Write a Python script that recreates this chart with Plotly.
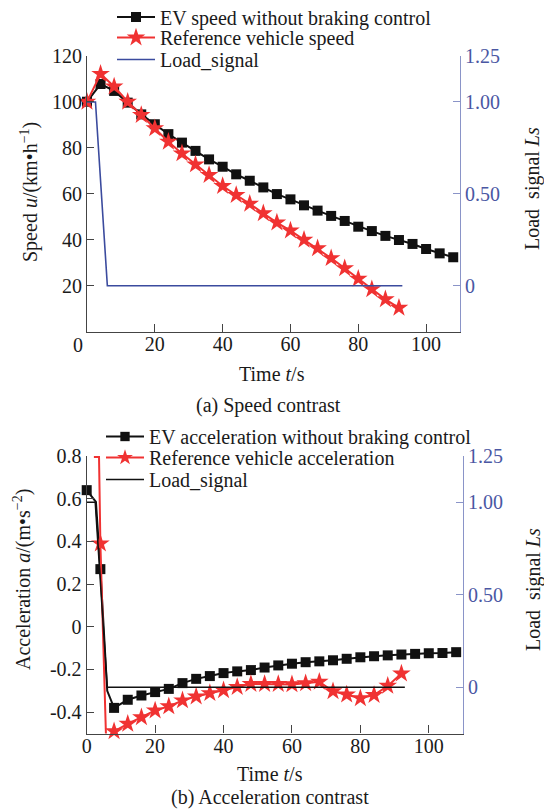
import plotly.graph_objects as go

W, H = 544, 812
FONT = "Liberation Serif"
FS = 20

# ---------------- (a) speed contrast ----------------
t_speed_ev = [0, 4, 8, 12, 16, 20, 24, 28, 32, 36, 40, 44, 48, 52, 56, 60, 64,
              68, 72, 76, 80, 84, 88, 92, 96, 100, 104, 108]
speed_ev = [100.1, 107.8, 104.8, 99.7, 94.6, 90.3, 86.0, 82.3, 78.7, 75.0, 71.8,
            68.5, 65.7, 62.8, 59.9, 57.6, 55.0, 52.7, 50.4, 48.2, 45.7, 43.8,
            41.7, 39.9, 38.2, 36.0, 34.1, 32.4]
t_speed_ref = [0, 4, 8, 12, 16, 20, 24, 28, 32, 36, 40, 44, 48, 52, 56, 60, 64,
               68, 72, 76, 80, 84, 88, 92]
speed_ref = [100.1, 112.2, 106.7, 100.1, 94.3, 88.5, 82.7, 77.6, 72.8, 68.2, 63.4,
             59.5, 55.7, 51.5, 47.5, 44.0, 40.0, 36.3, 32.0, 27.6, 23.0, 18.5,
             14.1, 10.4]
t_load = [0, 2.5, 6, 93]
load_sig = [1, 1, 0, 0]

# ---------------- (b) acceleration contrast ----------------
t_acc_ev = [0, 2.7, 4, 6, 8, 12, 16, 20, 24, 28, 32, 36, 40, 44, 48, 52, 56, 60,
            64, 68, 72, 76, 80, 84, 88, 92, 96, 100, 104, 108]
acc_ev = [0.64, 0.585, 0.27, -0.30, -0.38, -0.342, -0.322, -0.306, -0.291,
          -0.264, -0.244, -0.231, -0.217, -0.209, -0.203, -0.191, -0.181, -0.173,
          -0.166, -0.162, -0.157, -0.150, -0.143, -0.138, -0.134, -0.130,
          -0.127, -0.124, -0.123, -0.119]
t_acc_ref = [2.1, 3.6, 4, 5.8, 7.6, 8, 12, 16, 20, 24, 28, 32, 36, 40, 44, 48,
             52, 56, 60, 64, 68, 72, 76, 80, 84, 88, 92]
acc_ref = [0.795, 0.795, 0.39, -0.6, -0.6, -0.49, -0.455, -0.424, -0.392, -0.373,
           -0.345, -0.327, -0.311, -0.298, -0.282, -0.268, -0.268, -0.268, -0.270,
           -0.265, -0.258, -0.302, -0.318, -0.335, -0.320, -0.277, -0.219]
marked_times = [0, 4, 8, 12, 16, 20, 24, 28, 32, 36, 40, 44, 48, 52, 56, 60, 64,
                68, 72, 76, 80, 84, 88, 92, 96, 100, 104, 108]
t_load_b = [0, 2.5, 6, 93]
load_sig_b = [1, 1, 0, 0]

BLACK = "#111111"
RED = "#f03232"
BLUE = "#3b4b9e"
AXBLUE = "#8a94c8"
TICKBLUE = "#4a57a3"
SQ = 10
ST = 14

def sizes(ts, s):
    mk = set(marked_times)
    return [s if t in mk else 0 for t in ts]

def mk(symbol, size, color):
    return dict(symbol=symbol, size=size, color=color, opacity=1,
                line=dict(width=0, color=color))

fig = go.Figure()

fig.add_trace(go.Scatter(x=t_speed_ev, y=speed_ev, mode="lines+markers",
                         name="EV speed without braking control",
                         line=dict(color=BLACK, width=2),
                         marker=mk("square", SQ, BLACK),
                         cliponaxis=False, xaxis="x", yaxis="y", legend="legend"))
fig.add_trace(go.Scatter(x=t_speed_ref, y=speed_ref, mode="lines+markers",
                         name="Reference vehicle speed",
                         line=dict(color=RED, width=2),
                         marker=mk("star", ST, RED),
                         cliponaxis=False, xaxis="x", yaxis="y", legend="legend2"))
fig.add_trace(go.Scatter(x=t_load, y=load_sig, mode="lines", name="Load_signal",
                         line=dict(color=BLUE, width=1.6),
                         xaxis="x", yaxis="y2", legend="legend3"))

fig.add_trace(go.Scatter(x=t_acc_ev, y=acc_ev, mode="lines+markers",
                         name="EV acceleration without braking control",
                         line=dict(color=BLACK, width=2),
                         marker=mk("square", sizes(t_acc_ev, SQ), BLACK),
                         cliponaxis=False, xaxis="x2", yaxis="y3", legend="legend4"))
fig.add_trace(go.Scatter(x=t_acc_ref, y=acc_ref, mode="lines+markers",
                         name="Reference vehicle acceleration",
                         line=dict(color=RED, width=2),
                         marker=mk("star", sizes(t_acc_ref, ST), RED),
                         cliponaxis=False, xaxis="x2", yaxis="y3", legend="legend5"))
fig.add_trace(go.Scatter(x=t_load_b, y=load_sig_b, mode="lines", name="Load_signal",
                         line=dict(color=BLACK, width=1.6),
                         xaxis="x2", yaxis="y4", legend="legend6"))

def px_x(p):
    return p / W

def px_y(p):
    return 1 - p / H

tickfont = dict(family=FONT, size=FS, color="#1a1a1a")
common_x = dict(showgrid=False, zeroline=False, ticks="inside", ticklen=8,
                tickcolor="#444", showline=True, linecolor="#444", linewidth=1.2,
                tickfont=tickfont, range=[0, 110], ticklabelstandoff=-6)
common_y = dict(showgrid=False, zeroline=False, ticks="inside", ticklen=7,
                tickcolor="#444", showline=True, linecolor="#444", linewidth=1.2,
                tickfont=tickfont)
right_y = dict(showgrid=False, zeroline=False, ticks="inside", ticklen=7,
               tickcolor=AXBLUE, showline=True, linecolor=AXBLUE, linewidth=1.2,
               tickfont=dict(family=FONT, size=FS, color=TICKBLUE), side="right",
               range=[-0.25, 1.25], tickvals=[0, 0.5, 1.0, 1.25],
               ticktext=["0", "0.50", "1.00", "1.25"])

dom_x_a = [px_x(87), px_x(460)]
dom_y_a = [px_y(331.7), px_y(56)]
dom_x_b = [px_x(86.7), px_x(463)]
dom_y_b = [px_y(733.5), px_y(456)]

fig.update_layout(
    width=W, height=H, margin=dict(l=0, r=0, t=0, b=0, autoexpand=False),
    paper_bgcolor="white", plot_bgcolor="white", showlegend=True,
    font=dict(family=FONT, size=FS, color="#1a1a1a"),
    xaxis=dict(common_x, domain=dom_x_a, anchor="y", tickvals=[20, 40, 60, 80, 100]),
    yaxis=dict(common_y, domain=dom_y_a, anchor="x", range=[0, 120],
               tickvals=[20, 40, 60, 80, 100, 120]),
    yaxis2=dict(right_y, overlaying="y", anchor="x"),
    xaxis2=dict(common_x, domain=dom_x_b, anchor="y3", tickvals=[0, 20, 40, 60, 80, 100]),
    yaxis3=dict(common_y, domain=dom_y_b, anchor="x2", range=[-0.5, 0.8],
                tickvals=[-0.4, -0.2, 0, 0.2, 0.4, 0.6, 0.8],
                ticktext=["-0.4", "-0.2", "0", "0.2", "0.4", "0.6", "0.8"]),
    yaxis4=dict(right_y, overlaying="y3", anchor="x2"),
)

leg_common = dict(bgcolor="rgba(0,0,0,0)", font=dict(family=FONT, size=FS, color="#1a1a1a"),
                  xanchor="left", yanchor="middle", itemwidth=38, borderwidth=0)
fig.update_layout(
    legend=dict(leg_common, x=px_x(112), y=px_y(17)),
    legend2=dict(leg_common, x=px_x(112), y=px_y(37.5)),
    legend3=dict(leg_common, x=px_x(112), y=px_y(59.5)),
    legend4=dict(leg_common, x=px_x(101), y=px_y(436.5)),
    legend5=dict(leg_common, x=px_x(101), y=px_y(457.5)),
    legend6=dict(leg_common, x=px_x(101), y=px_y(479.5)),
)

def ann(text, x, y, angle=0, size=FS):
    fig.add_annotation(text=text, x=px_x(x), y=px_y(y), xref="paper", yref="paper",
                       showarrow=False, textangle=angle, xanchor="center", yanchor="middle",
                       font=dict(family=FONT, size=size, color="#1a1a1a"))

ann("0", 78, 345)
ann("Time <i>t</i>/s", 272, 374)
ann("(a) Speed contrast", 268, 405)
ann("Speed <i>u</i>/(km•h<sup>−1</sup>)", 30, 192, -90)
ann("Load  signal <i>Ls</i>", 533, 189, -90)

ann("Time <i>t</i>/s", 270, 774)
ann("(b) Acceleration contrast", 270, 797)
ann("Acceleration <i>a</i>/(m•s<sup>−2</sup>)", 22, 580, -90)
ann("Load  signal <i>Ls</i>", 533, 590, -90)

fig.write_html("out.html")
